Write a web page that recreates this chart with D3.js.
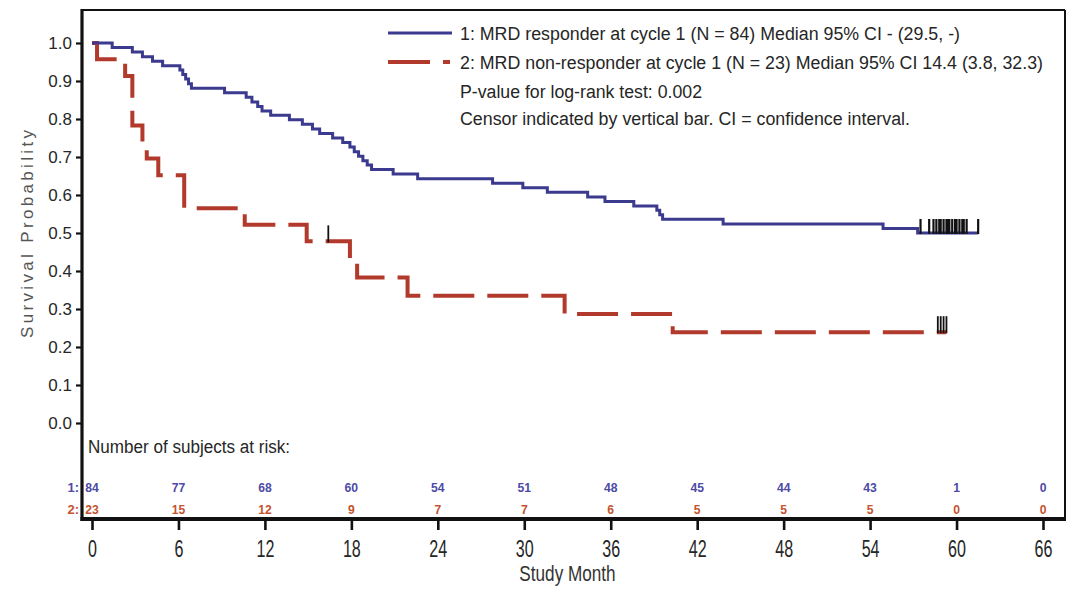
<!DOCTYPE html>
<html>
<head>
<meta charset="utf-8">
<script src="https://cdn.jsdelivr.net/npm/d3@7"></script>
<style>
  body { margin: 0; background: #fff; }
  svg { display: block; }
  text { font-family: "Liberation Sans", Arial, sans-serif; }
</style>
</head>
<body>
<svg id="km" width="1070" height="597"></svg>
<script>
// ---- data ----
const monthTicks = [0, 6, 12, 18, 24, 30, 36, 42, 48, 54, 60, 66];
const probTicks = [0, 0.1, 0.2, 0.3, 0.4, 0.5, 0.6, 0.7, 0.8, 0.9, 1.0];

const legendLines = [
  "1: MRD responder at cycle 1 (N = 84) Median 95% CI - (29.5, -)",
  "2: MRD non-responder at cycle 1 (N = 23) Median 95% CI 14.4 (3.8, 32.3)",
  "P-value for log-rank test: 0.002",
  "Censor indicated by vertical bar. CI = confidence interval."
];

// Group 1: MRD responders — step times (months) and survival after each step
const respTimes = [0, 1.4, 2.8, 3.5, 4.2, 4.9, 6.1, 6.3, 6.5, 6.7, 6.9,
  9.2, 10.7, 11.1, 11.5, 11.8, 12.4, 13.7, 14.6, 15.3, 15.8, 16.7, 17.4, 17.9, 18.2,
  18.5, 18.8, 19.1, 19.4, 20.9, 22.6, 27.8, 29.9, 31.6, 34.4, 35.6, 37.6,
  39.2, 39.4, 39.6, 43.8, 54.9, 57.3];
const respSurv = [1.0, 0.988, 0.976, 0.964, 0.952, 0.940, 0.929, 0.917, 0.905, 0.893, 0.881,
  0.869, 0.857, 0.845, 0.833, 0.821, 0.810, 0.798, 0.786, 0.774, 0.762, 0.750, 0.738, 0.726, 0.714,
  0.702, 0.690, 0.679, 0.667, 0.655, 0.643, 0.631, 0.619, 0.607, 0.595, 0.583, 0.571,
  0.560, 0.548, 0.536, 0.524, 0.512, 0.500];
const respCensor = [57.5, 58.1, 58.4, 58.6, 58.8, 58.9, 59.1, 59.3, 59.4, 59.5,
  59.7, 59.9, 60.0, 60.2, 60.4, 60.5, 60.7, 61.5];
const respLastFollowUp = 61.5;

// Group 2: MRD non-responders
const nonTimes = [0, 0.35, 2.3, 2.8, 3.5, 3.8, 4.6, 6.4, 10.6, 14.9, 17.9, 18.4, 21.9, 32.8, 40.3];
const nonSurv = [1.0, 0.957, 0.913, 0.783, 0.739, 0.696, 0.652, 0.565, 0.522, 0.478, 0.430, 0.383, 0.335, 0.287, 0.239];
const nonCensor = [16.4, 58.7, 58.9, 59.1, 59.3];
const nonLastFollowUp = 59.3;

// Numbers at risk at each month tick
const atRiskResp = [84, 77, 68, 60, 54, 51, 48, 45, 44, 43, 1, 0];
const atRiskNon = [23, 15, 12, 9, 7, 7, 6, 5, 5, 5, 0, 0];

// ---- layout ----
const svg = d3.select("#km");
const frame = { left: 82, right: 1065, top: 10, bottom: 519 };
const x = d3.scaleLinear().domain([0, 66]).range([92, 1043]);
const y = d3.scaleLinear().domain([0, 1]).range([423, 43]);

const blue = "#3b3a8f";
const red = "#b23a2c";
const textCol = "#262626";

function stepPoints(times, surv, end) {
  const pts = times.map((t, i) => [t, surv[i]]);
  pts.push([end, surv[surv.length - 1]]);
  return pts;
}
function survAt(times, surv, t) {
  let s = surv[0];
  for (let i = 0; i < times.length; i++) if (times[i] <= t) s = surv[i];
  return s;
}
const stepLine = d3.line()
  .x(d => x(d[0]))
  .y(d => y(d[1]))
  .curve(d3.curveStepAfter);

// ---- legend ----
const legend = svg.append("g");
const legendY = [33, 62, 91, 118];
const legendEnds = [960, 1043, 702, 910];
legend.append("line")
  .attr("x1", 388).attr("x2", 452).attr("y1", legendY[0]).attr("y2", legendY[0])
  .attr("stroke", blue).attr("stroke-width", 3);
legend.append("line")
  .attr("x1", 388).attr("x2", 450).attr("y1", legendY[1]).attr("y2", legendY[1])
  .attr("stroke", red).attr("stroke-width", 4).attr("stroke-dasharray", "42,13");
legend.selectAll("text.leg")
  .data(legendLines)
  .join("text")
  .attr("class", "leg")
  .attr("x", 460)
  .attr("y", (d, i) => legendY[i] + 6.5)
  .attr("textLength", (d, i) => legendEnds[i] - 460)
  .attr("lengthAdjust", "spacingAndGlyphs")
  .attr("font-size", 18)
  .attr("fill", textCol)
  .text(d => d);

// ---- curves ----
svg.append("path")
  .datum(stepPoints(nonTimes, nonSurv, nonLastFollowUp))
  .attr("d", stepLine)
  .attr("fill", "none")
  .attr("stroke", red)
  .attr("stroke-width", 4)
  .attr("stroke-dasharray", "41,13");

svg.append("path")
  .datum(stepPoints(respTimes, respSurv, respLastFollowUp))
  .attr("d", stepLine)
  .attr("fill", "none")
  .attr("stroke", blue)
  .attr("stroke-width", 3);

// censor bars
function censorBars(times, stepT, stepS, h, w) {
  svg.append("g").selectAll("line")
    .data(times)
    .join("line")
    .attr("x1", d => x(d)).attr("x2", d => x(d))
    .attr("y1", d => y(survAt(stepT, stepS, d)) + 1)
    .attr("y2", d => y(survAt(stepT, stepS, d)) - h)
    .attr("stroke", "#111")
    .attr("stroke-width", w);
}
censorBars(respCensor, respTimes, respSurv, 14, 2.2);
censorBars(nonCensor, nonTimes, nonSurv, 16, 1.8);

// ---- numbers at risk ----
svg.append("text")
  .attr("x", 88).attr("y", 453)
  .attr("font-size", 18)
  .attr("textLength", 202).attr("lengthAdjust", "spacingAndGlyphs")
  .attr("fill", textCol)
  .text("Number of subjects at risk:");

const riskRows = [
  { label: "1:", values: atRiskResp, color: "#4d4aa6", base: 492 },
  { label: "2:", values: atRiskNon, color: "#c4532f", base: 514 }
];
riskRows.forEach(row => {
  svg.append("text")
    .attr("x", 79).attr("y", row.base)
    .attr("text-anchor", "end")
    .attr("font-size", 13)
    .attr("font-weight", "bold")
    .attr("fill", row.color)
    .text(row.label);
  svg.append("g").selectAll("text")
    .data(monthTicks)
    .join("text")
    .attr("transform", (d) => `translate(${x(d)},${row.base}) scale(0.9,1)`)
    .attr("text-anchor", "middle")
    .attr("font-size", 13.5)
    .attr("font-weight", "bold")
    .attr("fill", row.color)
    .text((d, i) => row.values[i]);
});

// ---- axes and frame ----
const yAxis = svg.append("g")
  .attr("transform", `translate(${frame.left},0)`)
  .call(d3.axisLeft(y).tickValues(probTicks).tickSize(6).tickFormat(d3.format(".1f")));
yAxis.select(".domain").remove();
yAxis.selectAll(".tick line").attr("stroke", "#111").attr("stroke-width", 2.2);
yAxis.selectAll(".tick text")
  .attr("x", -10).attr("dy", "0.35em")
  .attr("font-size", 17).attr("font-family", "Liberation Sans, Arial, sans-serif")
  .attr("fill", textCol);

const xAxis = svg.append("g")
  .attr("transform", `translate(0,${frame.bottom})`)
  .call(d3.axisBottom(x).tickValues(monthTicks).tickSize(11).tickFormat(d3.format("d")));
xAxis.select(".domain").remove();
xAxis.selectAll(".tick line").attr("stroke", "#111").attr("stroke-width", 2.6);
xAxis.selectAll(".tick text")
  .attr("y", 38).attr("dy", 0)
  .attr("transform", "scale(0.7,1)")
  .attr("font-size", 23).attr("font-family", "Liberation Sans, Arial, sans-serif")
  .attr("fill", textCol);

// frame lines
svg.append("line").attr("x1", frame.left).attr("x2", frame.right)
  .attr("y1", frame.top).attr("y2", frame.top)
  .attr("stroke", "#111").attr("stroke-width", 2);
svg.append("line").attr("x1", frame.right).attr("x2", frame.right)
  .attr("y1", frame.top).attr("y2", frame.bottom)
  .attr("stroke", "#111").attr("stroke-width", 2);
svg.append("line").attr("x1", frame.left).attr("x2", frame.left)
  .attr("y1", frame.top - 1).attr("y2", frame.bottom + 2)
  .attr("stroke", "#111").attr("stroke-width", 3.2);
svg.append("line").attr("x1", frame.left - 1.5).attr("x2", frame.right + 1)
  .attr("y1", frame.bottom).attr("y2", frame.bottom)
  .attr("stroke", "#111").attr("stroke-width", 4);

// axis titles
svg.append("text")
  .attr("transform", `translate(${x(33)},581) scale(0.78,1)`)
  .attr("text-anchor", "middle")
  .attr("font-size", 22)
  .attr("fill", "#333")
  .text("Study Month");

svg.append("text")
  .attr("transform", "translate(33,234) rotate(-90)")
  .attr("text-anchor", "middle")
  .attr("font-size", 17)
  .attr("textLength", 208).attr("lengthAdjust", "spacing")
  .attr("fill", "#555")
  .text("Survival Probability");
</script>
</body>
</html>
